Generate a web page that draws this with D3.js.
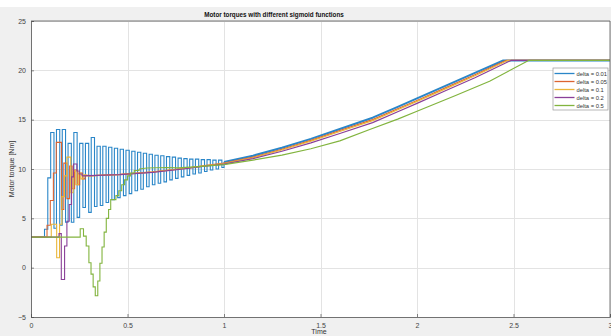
<!DOCTYPE html>
<html>
<head>
<meta charset="utf-8">
<script src="https://cdn.jsdelivr.net/npm/d3@7"></script>
<style>
  body { margin: 0; background: #fff; }
  svg { display: block; font-family: "Liberation Sans", Arial, sans-serif; }
</style>
</head>
<body>
<div id="chart"></div>
<script>
// tick values on the axes
const xTicks = [0, 0.5, 1, 1.5, 2, 2.5, 3];
const yTicks = [-5, 0, 5, 10, 15, 20, 25];
const seriesNames = ["delta = 0.01", "delta = 0.05", "delta = 0.1", "delta = 0.2", "delta = 0.5"];
const colors = ["#2a86c8", "#dc6432", "#eab73a", "#8a4098", "#82b43e"];

// stair part of each signal [time, torque]
const blueSteps = [
  [0, 3.1], [0.07, 3.9], [0.087, 9.1],
  [0.102, 13.7], [0.119, 4.0], [0.132, 14.0], [0.149, 4.3],
  [0.162, 14.0], [0.179, 4.6], [0.192, 12.6], [0.209, 4.6],
  [0.222, 13.7], [0.239, 5.1], [0.252, 12.6], [0.269, 6.1],
  [0.282, 12.6], [0.299, 5.6], [0.312, 13.2], [0.329, 6.2],
  [0.342, 12.3], [0.359, 6.3], [0.372, 12.3], [0.389, 6.6],
  [0.402, 12.2], [0.419, 6.9], [0.432, 12.1], [0.449, 7.1],
  [0.462, 12.0], [0.479, 7.3], [0.492, 11.9], [0.509, 7.5],
  [0.522, 11.8], [0.539, 7.8], [0.552, 11.7], [0.569, 7.95],
  [0.582, 11.6], [0.599, 8.2], [0.612, 11.5], [0.629, 8.4],
  [0.642, 11.4], [0.659, 8.55], [0.672, 11.35], [0.689, 8.7],
  [0.702, 11.25], [0.719, 8.9], [0.732, 11.2], [0.749, 9.05],
  [0.762, 11.1], [0.779, 9.2], [0.792, 11.05], [0.809, 9.35],
  [0.822, 11.0], [0.839, 9.5], [0.852, 11.0], [0.869, 9.6],
  [0.882, 10.95], [0.899, 9.75], [0.912, 10.95], [0.929, 9.9],
  [0.942, 10.9], [0.959, 10.0], [0.972, 10.9], [0.989, 10.15],
  [1.0, 10.7]
];
const orangeSteps = [
  [0, 3.1], [0.083, 4.3], [0.1, 6.8], [0.116, 9.6], [0.131, 12.7], [0.158, 5.9],
  [0.17, 10.6], [0.186, 7.0], [0.2, 10.3], [0.213, 8.0], [0.226, 9.9], [0.24, 8.4],
  [0.252, 9.6], [0.266, 9.0], [0.28, 9.35], [0.3, 9.3]
];
const yellowSteps = [
  [0, 3.1], [0.105, 4.4], [0.133, 1.0], [0.148, 4.4], [0.16, 7.2], [0.174, 9.3],
  [0.186, 11.2], [0.206, 7.6], [0.218, 9.8], [0.232, 8.4], [0.245, 9.6], [0.258, 9.0],
  [0.27, 9.4], [0.285, 9.3]
];
const purpleSteps = [
  [0, 3.1], [0.145, 3.45], [0.157, -1.2], [0.174, 2.2], [0.186, 4.7], [0.198, 6.4],
  [0.21, 9.2], [0.22, 10.5], [0.238, 9.8], [0.25, 9.5], [0.265, 9.3]
];
const greenSteps = [
  [0, 3.1], [0.255, 3.95], [0.272, 3.2], [0.286, 2.2], [0.3, 0.5], [0.311, -0.65],
  [0.322, -1.95], [0.333, -2.85], [0.346, -1.35], [0.357, 0.45], [0.368, 2.1],
  [0.379, 3.6], [0.39, 5.0], [0.402, 5.9], [0.413, 6.9], [0.44, 7.3], [0.455, 7.8],
  [0.47, 8.4], [0.485, 8.9], [0.5, 9.3], [0.515, 9.6], [0.535, 9.85], [0.56, 10.0]
];

// smooth part after the chattering settles
const blueSmooth = [
  [1.0, 10.7], [1.15, 11.35], [1.3, 12.15], [1.45, 13.05], [1.6, 14.05], [1.77, 15.2],
  [1.9, 16.3], [2.0, 17.15], [2.15, 18.45], [2.3, 19.75], [2.447, 21], [3, 21]
];
const orangeSmooth = [
  [0.3, 9.3], [0.46, 9.45], [0.63, 9.7], [0.81, 10.1], [0.9, 10.35], [1.0, 10.6],
  [1.15, 11.2], [1.3, 12.0], [1.45, 12.9], [1.6, 13.9], [1.77, 15.0], [1.9, 16.1],
  [2.0, 16.95], [2.15, 18.25], [2.3, 19.55], [2.46, 21], [3, 21]
];
const yellowSmooth = [
  [0.285, 9.3], [0.46, 9.43], [0.63, 9.68], [0.81, 10.08], [0.9, 10.32], [1.0, 10.56],
  [1.15, 11.14], [1.3, 11.93], [1.45, 12.82], [1.6, 13.8], [1.77, 14.9], [1.9, 16.0],
  [2.0, 16.85], [2.15, 18.15], [2.3, 19.45], [2.47, 21], [3, 21]
];
const purpleSmooth = [
  [0.265, 9.3], [0.46, 9.42], [0.63, 9.66], [0.81, 10.05], [0.9, 10.28], [1.0, 10.5],
  [1.15, 11.05], [1.3, 11.8], [1.45, 12.65], [1.6, 13.6], [1.77, 14.7], [1.9, 15.8],
  [2.0, 16.65], [2.15, 17.95], [2.3, 19.25], [2.487, 21], [3, 21]
];
const greenSmooth = [
  [0.56, 10.0], [0.6, 10.1], [0.7, 10.15], [0.76, 10.12], [0.85, 10.22], [1.0, 10.45],
  [1.15, 10.9], [1.3, 11.4], [1.45, 12.05], [1.6, 12.85], [1.755, 14.0], [1.9, 15.05],
  [2.0, 15.85], [2.2, 17.45], [2.376, 18.9], [2.578, 21], [3, 21]
];

const stepSets = [blueSteps, orangeSteps, yellowSteps, purpleSteps, greenSteps];
const smoothSets = [blueSmooth, orangeSmooth, yellowSmooth, purpleSmooth, greenSmooth];

const W = 611, H = 336;
const svg = d3.select("#chart").append("svg").attr("width", W).attr("height", H);

svg.append("rect").attr("width", W).attr("height", H).attr("fill", "#ffffff");
svg.append("rect").attr("y", 7).attr("width", W).attr("height", H - 7).attr("fill", "#f0f0f0");

const x = d3.scaleLinear().domain([0, 3]).range([31, 610]);
const y = d3.scaleLinear().domain([-5, 25]).range([317, 21]);

svg.append("rect")
  .attr("x", x(0)).attr("y", y(25))
  .attr("width", x(3) - x(0)).attr("height", y(-5) - y(25))
  .attr("fill", "#fff");

// grid
const grid = svg.append("g").attr("stroke", "#e3e3e3").attr("stroke-width", 1);
grid.selectAll(".gx").data(xTicks).enter().append("line")
  .attr("x1", d => Math.round(x(d)) + 0.5).attr("x2", d => Math.round(x(d)) + 0.5)
  .attr("y1", y(25)).attr("y2", y(-5));
grid.selectAll(".gy").data(yTicks).enter().append("line")
  .attr("y1", d => Math.round(y(d)) + 0.5).attr("y2", d => Math.round(y(d)) + 0.5)
  .attr("x1", x(0)).attr("x2", x(3));

// lines
const stepLine = d3.line().x(d => x(d[0])).y(d => y(d[1])).curve(d3.curveStepAfter);
const smoothLine = d3.line().x(d => x(d[0])).y(d => y(d[1]));

const plot = svg.append("g");
stepSets.forEach((s, i) => {
  plot.append("path").datum(smoothSets[i])
    .attr("fill", "none").attr("stroke", colors[i])
    .attr("stroke-width", i === 0 ? 2 : 1.2)
    .attr("stroke-linejoin", "round")
    .attr("d", smoothLine);
  plot.append("path").datum(s)
    .attr("fill", "none").attr("stroke", colors[i])
    .attr("stroke-width", 1.1)
    .attr("d", stepLine);
});

// axes
const xAxis = svg.append("g").attr("transform", `translate(0,${y(-5)})`)
  .call(d3.axisBottom(x).tickValues(xTicks).tickSize(-3).tickPadding(6).tickFormat(d3.format("")));
const yAxis = svg.append("g").attr("transform", `translate(${x(0)},0)`)
  .call(d3.axisLeft(y).tickValues(yTicks).tickSize(-3).tickPadding(5));
[xAxis, yAxis].forEach(a => {
  a.select(".domain").attr("stroke", "#555").attr("stroke-width", 0.8);
  a.selectAll(".tick line").attr("stroke", "#555").attr("stroke-width", 0.7);
  a.selectAll("text").attr("fill", "#444").style("font-size", "7px").style("font-family", "Liberation Sans, Arial, sans-serif");
});
// top and right box edges
svg.append("line").attr("x1", x(0)).attr("x2", x(3)).attr("y1", y(25)).attr("y2", y(25))
  .attr("stroke", "#555").attr("stroke-width", 0.8);
svg.append("line").attr("x1", x(3)).attr("x2", x(3)).attr("y1", y(25)).attr("y2", y(-5))
  .attr("stroke", "#555").attr("stroke-width", 0.8);

// titles
svg.append("text").attr("x", 274).attr("y", 17).attr("text-anchor", "middle")
  .attr("font-weight", "bold").attr("font-size", 6.3).attr("fill", "#111")
  .text("Motor torques with different sigmoid functions");
svg.append("text").attr("x", 319).attr("y", 334).attr("text-anchor", "middle")
  .attr("font-size", 7).attr("fill", "#333").text("Time");
svg.append("text").attr("transform", `translate(14,${(y(25) + y(-5)) / 2}) rotate(-90)`)
  .attr("text-anchor", "middle").attr("font-size", 7).attr("fill", "#333")
  .text("Motor torque [Nm]");

// legend
const lg = svg.append("g").attr("transform", "translate(553,68)");
lg.append("rect").attr("width", 55).attr("height", 42)
  .attr("fill", "#fff").attr("stroke", "#999").attr("stroke-width", 0.7);
seriesNames.forEach((name, i) => {
  const ly = 5.5 + i * 8;
  lg.append("line").attr("x1", 1.5).attr("x2", 21.5).attr("y1", ly).attr("y2", ly)
    .attr("stroke", colors[i]).attr("stroke-width", 1.3);
  lg.append("text").attr("x", 23.5).attr("y", ly + 2).attr("font-size", 5.8)
    .attr("fill", "#333").text(name);
});
</script>
</body>
</html>
